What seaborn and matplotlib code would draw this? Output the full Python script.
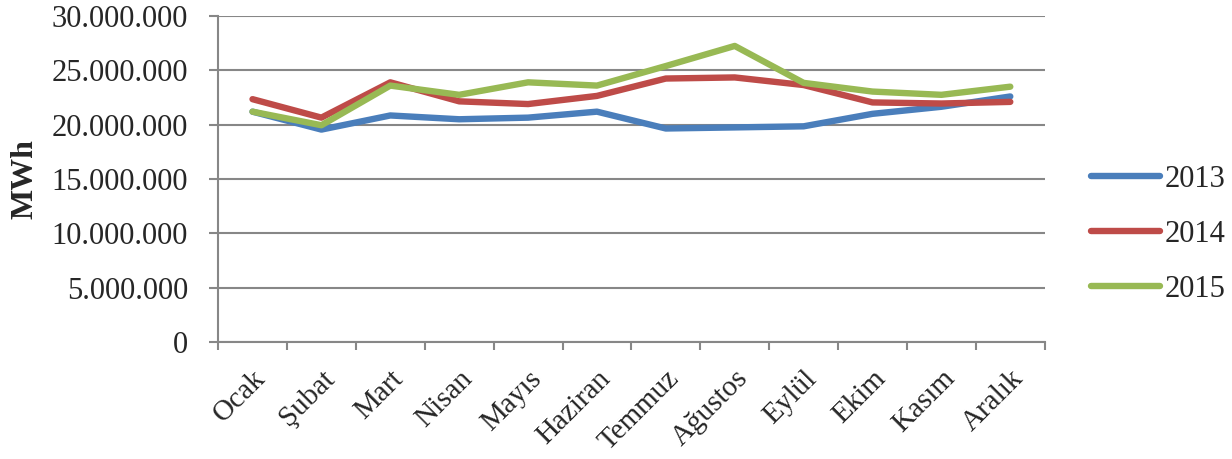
import matplotlib
matplotlib.use("Agg")
import matplotlib.pyplot as plt
import matplotlib.transforms as mtransforms
import seaborn as sns
import pandas as pd
from matplotlib.ticker import FuncFormatter, FixedLocator

months = ["Ocak", "Şubat", "Mart", "Nisan", "Mayıs", "Haziran",
          "Temmuz", "Ağustos", "Eylül", "Ekim", "Kasım", "Aralık"]
y2013 = [21200000, 19550000, 20850000, 20500000, 20650000, 21200000,
         19650000, 19750000, 19850000, 21000000, 21650000, 22600000]
y2014 = [22350000, 20650000, 23900000, 22150000, 21900000, 22650000,
         24250000, 24350000, 23650000, 22050000, 21950000, 22100000]
y2015 = [21200000, 19950000, 23600000, 22750000, 23900000, 23600000,
         25400000, 27250000, 23850000, 23050000, 22750000, 23500000]
years = ["2013", "2014", "2015"]
colors = ["#4A7EBB", "#BE4B48", "#98B954"]

rows = []
for yr, vals in zip(years, [y2013, y2014, y2015]):
    for i, v in enumerate(vals):
        rows.append({"idx": i, "val": v, "Yıl": yr})
df = pd.DataFrame(rows)

sns.set_theme(style="white")
plt.rcParams["font.family"] = ["Liberation Serif", "DejaVu Serif"]

fig = plt.figure(figsize=(12.32, 4.59), dpi=100)
ax = fig.add_axes([0.177, 0.255, 0.671, 0.710])

sns.lineplot(data=df, x="idx", y="val", hue="Yıl", palette=colors,
             linewidth=4.6, ax=ax, solid_capstyle="round")

ax.set_xlim(-0.5, 11.5)
ax.set_ylim(0, 30000000)
ax.yaxis.set_major_locator(FixedLocator([i * 5000000 for i in range(7)]))
ax.yaxis.set_major_formatter(FuncFormatter(lambda v, p: f"{int(v):,}".replace(",", ".")))
ax.grid(axis="y", color="#878787", linewidth=1.5)
ax.set_axisbelow(True)

ax.xaxis.set_major_locator(FixedLocator([i - 0.5 for i in range(13)]))
ax.xaxis.set_minor_locator(FixedLocator(list(range(12))))
ax.set_xticklabels([])
ax.set_xticklabels(months, minor=True, rotation=45, ha="right", va="top",
                   rotation_mode="anchor", fontsize=21)
offset = mtransforms.ScaledTranslation(9 / 100, 0, fig.dpi_scale_trans)
for lab in ax.xaxis.get_minorticklabels():
    lab.set_transform(lab.get_transform() + offset)
ax.tick_params(axis="x", which="major", length=6, width=1.5, color="#878787", direction="out", bottom=True)
ax.tick_params(axis="x", which="minor", length=0, pad=17)
ax.tick_params(axis="y", length=6.5, width=1.5, color="#878787", direction="out", left=True, labelsize=22, pad=15)

for s in ["top", "right"]:
    ax.spines[s].set_visible(False)
for s in ["left", "bottom"]:
    ax.spines[s].set_color("#878787")
    ax.spines[s].set_linewidth(1.5)

ax.set_xlabel("")
ax.set_ylabel("MWh", fontsize=23, fontweight="bold", labelpad=9)

leg = ax.legend(loc="center left", bbox_to_anchor=(1.023, 0.33), frameon=False,
                fontsize=22, handlelength=2.25, handletextpad=0.15, labelspacing=0.85,
                title=None)
for line in leg.get_lines():
    line.set_linewidth(4.6)
    line.set_solid_capstyle("round")

fig.savefig("out.png", dpi=100)
